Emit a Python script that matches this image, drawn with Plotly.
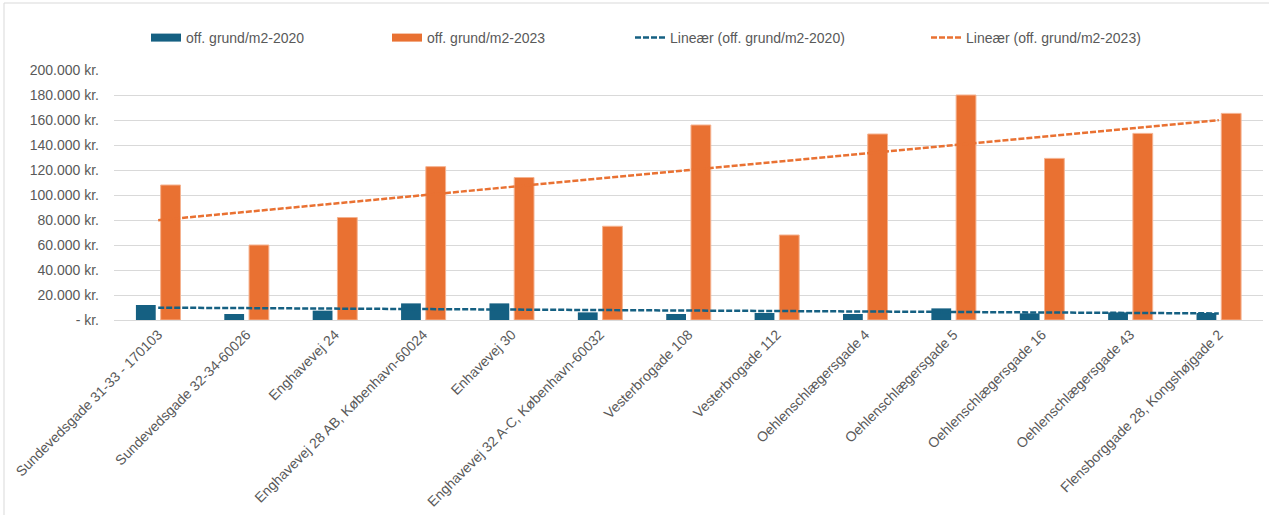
import numpy as np
import plotly.graph_objects as go

categories = [
    "Sundevedsgade 31-33 - 170103",
    "Sundevedsgade 32-34-60026",
    "Enghavevej 24",
    "Enghavevej 28 AB, København-60024",
    "Enhavevej 30",
    "Enghavevej 32 A-C, København-60032",
    "Vesterbrogade 108",
    "Vesterbrogade 112",
    "Oehlenschlægersgade 4",
    "Oehlenschlægersgade 5",
    "Oehlenschlægersgade 16",
    "Oehlenschlægersgade 43",
    "Flensborggade 28, Kongshøjgade 2",
]
values_2020 = [12000, 4800, 7500, 13300, 13300, 6100, 4800, 5600, 4800, 9300, 5300, 6100, 5600]
values_2023 = [108000, 60000, 82000, 122700, 114000, 75000, 156000, 68000, 148800, 180000, 129300, 149300, 165300]
series_names = ["off. grund/m2-2020", "off. grund/m2-2023",
                "Lineær (off. grund/m2-2020)", "Lineær (off. grund/m2-2023)"]
tick_values = [0, 20000, 40000, 60000, 80000, 100000, 120000, 140000, 160000, 180000, 200000]
tick_text = ["- kr.", "20.000 kr.", "40.000 kr.", "60.000 kr.", "80.000 kr.", "100.000 kr.",
             "120.000 kr.", "140.000 kr.", "160.000 kr.", "180.000 kr.", "200.000 kr."]

BLUE = "#156082"
ORANGE = "#E97132"
GRAY_TXT = "#595959"
FONT = "Liberation Sans"

idx = np.arange(1, len(categories) + 1)
def trend(vals):
    k, m = np.polyfit(idx, np.array(vals, dtype=float), 1)
    return list(k * idx + m)

fig = go.Figure()
# bars (legend entries provided by wide swatch proxies below)
fig.add_trace(go.Bar(x=categories, y=values_2020, name=series_names[0], showlegend=False,
                     legendgroup="b20", marker=dict(color=BLUE, line=dict(width=0))))
fig.add_trace(go.Bar(x=categories, y=values_2023, name=series_names[1], showlegend=False,
                     legendgroup="b23", marker=dict(color=ORANGE, line=dict(color="#F5B28F", width=1))))
fig.add_trace(go.Scatter(x=[None], y=[None], name=series_names[0], mode="lines", showlegend=True,
                         legendgroup="b20", line=dict(color=BLUE, width=8), legend="legend"))
fig.add_trace(go.Scatter(x=[None], y=[None], name=series_names[1], mode="lines", showlegend=True,
                         legendgroup="b23", line=dict(color=ORANGE, width=8), legend="legend2"))
fig.add_trace(go.Scatter(x=categories, y=trend(values_2020), name=series_names[2], mode="lines",
                         showlegend=True,
                         line=dict(color=BLUE, width=2.5, dash="6px,2px"), legend="legend3"))
fig.add_trace(go.Scatter(x=categories, y=trend(values_2023), name=series_names[3], mode="lines",
                         showlegend=True,
                         line=dict(color=ORANGE, width=2.5, dash="6px,2px"), legend="legend4"))

W, H = 1269, 515
L, R, T, B = 114, 6, 70, 195
pw = W - L - R
ph = H - T - B

def lx(px):
    return (px - L) / pw

leg_y = (H - B - 38) / ph
legend_common = dict(orientation="h", yanchor="middle", y=leg_y, xanchor="left",
                     font=dict(family=FONT, size=14, color=GRAY_TXT),
                     bgcolor="rgba(0,0,0,0)", itemwidth=30)
text_starts = [186, 427, 670, 966]
fig.update_layout(
    width=W, height=H,
    margin=dict(l=L, r=R, t=T, b=B, autoexpand=False),
    paper_bgcolor="white", plot_bgcolor="white",
    showlegend=True,
    barmode="group", bargap=0.44, bargroupgap=0.2,
    font=dict(family=FONT, size=14, color=GRAY_TXT),
    legend=dict(legend_common, x=lx(text_starts[0] - 40)),
    legend2=dict(legend_common, x=lx(text_starts[1] - 40)),
    legend3=dict(legend_common, x=lx(text_starts[2] - 40)),
    legend4=dict(legend_common, x=lx(text_starts[3] - 40)),
    xaxis=dict(tickangle=-45, showgrid=False, showline=True, linecolor="#D9D9D9", linewidth=1,
               ticks="", tickfont=dict(family=FONT, size=14, color=GRAY_TXT)),
    yaxis=dict(range=[0, 200000], tickvals=tick_values, ticktext=tick_text,
               showgrid=True, gridcolor="#D9D9D9", gridwidth=1, zeroline=False,
               showline=False, ticks="", ticklabelstandoff=14,
               tickfont=dict(family=FONT, size=14, color=GRAY_TXT)),
    shapes=[dict(type="rect", xref="paper", yref="paper",
                 x0=lx(4), x1=lx(1290), y0=(H - B - 540) / ph, y1=(H - B - 3) / ph,
                 line=dict(color="#D9D9D9", width=1), fillcolor="rgba(0,0,0,0)", layer="below")],
)

fig.write_html("out.html", config={"displayModeBar": False},
               post_script="document.body.style.margin='0';document.body.style.overflow='hidden';")
